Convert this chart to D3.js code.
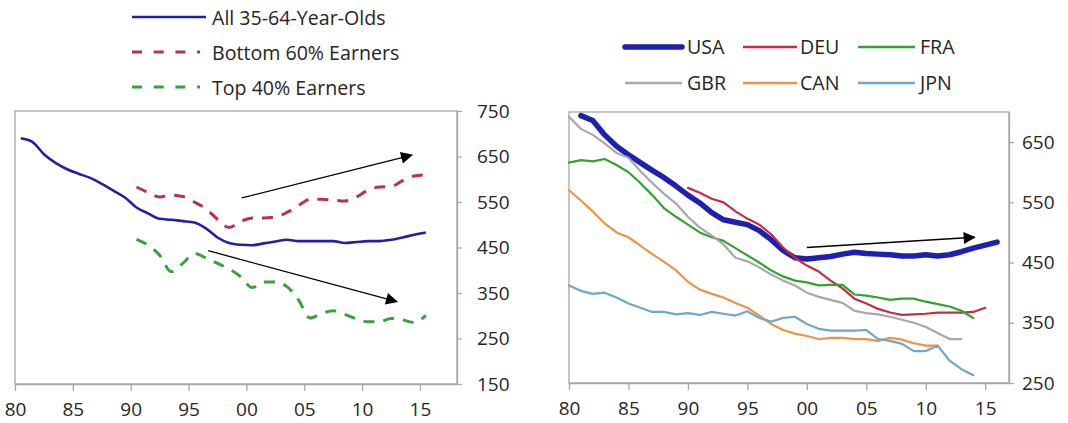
<!DOCTYPE html>
<html><head><meta charset="utf-8">
<script src="https://cdn.jsdelivr.net/npm/d3@7"></script>
<style>
html,body{margin:0;padding:0;background:#fff;}
svg{display:block;font-family:"Open Sans",sans-serif;}
</style></head><body>
<svg id="chart" width="1068" height="423"></svg>
<script>
// ---------------- Left chart data ----------------
const leftYears = [1980,1981,1982,1983,1984,1985,1986,1987,1988,1989,1990,1991,1992,1993,1994,1995,1996,1997,1998,1999,2000,2001,2002,2003,2004,2005,2006,2007,2008,2009,2010,2011,2012,2013,2014,2015];
const allOlds = [690,682,655,636,622,612,603,590,575,560,538,525,513,511,508,505,492,472,460,456,455,459,463,467,464,464,464,464,460,462,464,464,467,472,478,483];
const splitYears = [1990,1991,1992,1993,1994,1995,1996,1997,1998,1999,2000,2001,2002,2003,2004,2005,2006,2007,2008,2009,2010,2011,2012,2013,2014,2015];
const bottom60 = [583,571,561,565,562,550,535,512,494,507,515,515,517,527,542,556,556,554,552,561,576,583,584,597,607,610];
const top40 = [468,455,433,397,415,437,427,415,403,386,362,374,374,364,335,295,305,311,303,293,287,287,294,291,285,301];
const leftXTicks = [1980,1985,1990,1995,2000,2005,2010,2015];
const leftYTicks = [150,250,350,450,550,650,750];
const leftLegend = ["All 35-64-Year-Olds","Bottom 60% Earners","Top 40% Earners"];
// arrows: [fromYear, fromValue, toYear, toValue]
const leftArrows = [[1999.6,559,2014.3,653],[1996.7,443,2013.0,331]];

// ---------------- Right chart data ----------------
const usaYears = [1981,1982,1983,1984,1985,1986,1987,1988,1989,1990,1991,1992,1993,1994,1995,1996,1997,1998,1999,2000,2001,2002,2003,2004,2005,2006,2007,2008,2009,2010,2011,2012,2013,2014,2015,2016];
const usa = [694,686,662,643,629,616,603,591,577,562,549,533,521,517,513,503,488,470,458,456,458,460,464,467,465,464,463,461,461,463,461,463,468,474,479,484];
const deuYears = [1990,1991,1992,1993,1994,1995,1996,1997,1998,1999,2000,2001,2002,2003,2004,2005,2006,2007,2008,2009,2010,2011,2012,2013,2014,2015];
const deu = [574,566,556,550,535,523,513,497,475,458,445,435,420,407,390,382,373,367,363,364,365,367,367,367,368,375];
const fraYears = [1980,1981,1982,1983,1984,1985,1986,1987,1988,1989,1990,1991,1992,1993,1994,1995,1996,1997,1998,1999,2000,2001,2002,2003,2004,2005,2006,2007,2008,2009,2010,2011,2012,2013,2014];
const fra = [616,620,618,622,612,600,582,562,540,526,513,500,492,486,474,462,450,437,427,420,417,412,413,413,397,395,392,388,390,390,385,381,377,370,358];
const gbrYears = [1980,1981,1982,1983,1984,1985,1986,1987,1988,1989,1990,1991,1992,1993,1994,1995,1996,1997,1998,1999,2000,2001,2002,2003,2004,2005,2006,2007,2008,2009,2010,2011,2012,2013];
const gbr = [692,672,662,648,632,624,602,582,564,548,526,508,495,480,458,452,442,430,420,412,400,393,388,383,370,366,364,360,355,350,343,333,323,323];
const canYears = [1980,1981,1982,1983,1984,1985,1986,1987,1988,1989,1990,1991,1992,1993,1994,1995,1996,1997,1998,1999,2000,2001,2002,2003,2004,2005,2006,2007,2008,2009,2010,2011];
const can = [570,553,535,515,500,492,478,464,451,437,418,405,398,392,383,375,362,348,338,332,328,323,325,325,323,323,320,325,322,316,312,312];
const jpnYears = [1980,1981,1982,1983,1984,1985,1986,1987,1988,1989,1990,1991,1992,1993,1994,1995,1996,1997,1998,1999,2000,2001,2002,2003,2004,2005,2006,2007,2008,2009,2010,2011,2012,2013,2014];
const jpn = [412,403,398,400,392,382,375,368,368,364,366,363,368,365,362,369,358,352,358,360,348,340,337,337,337,338,323,320,315,303,303,312,287,273,263];
const rightXTicks = [1980,1985,1990,1995,2000,2005,2010,2015];
const rightYTicks = [250,350,450,550,650];
const countryNames = ["USA","DEU","FRA","GBR","CAN","JPN"];
const rightArrows = [[2000.0,475,2014.1,492]];

// ---------------- Drawing ----------------
const svg = d3.select("#chart");
const FONT = 19;
const LEGFONT = 19.6;
const textColor = "#262626";
const frameColor = "#a6a6a6";
const yearLabel = d => d3.format("02d")(d % 100);

const defs = svg.append("defs");
defs.append("marker").attr("id","arrowhead")
  .attr("viewBox","0 0 10 10").attr("refX",9).attr("refY",5)
  .attr("markerWidth",14).attr("markerHeight",12)
  .attr("markerUnits","userSpaceOnUse").attr("orient","auto")
  .append("path").attr("d","M0,0 L10,5 L0,10 Z").attr("fill","#000");

function styleAxis(g){
  g.select(".domain").attr("stroke",frameColor).attr("stroke-width",1.3);
  g.selectAll(".tick line").attr("stroke",frameColor).attr("stroke-width",1.3);
  g.selectAll(".tick text").attr("fill",textColor).style("font-size",FONT+"px").style("font-family","'Open Sans',sans-serif");
}

function drawFrame(box){
  svg.append("rect").attr("x",box.x0).attr("y",box.y0)
    .attr("width",box.x1-box.x0).attr("height",box.y1-box.y0)
    .attr("fill","none").attr("stroke",frameColor).attr("stroke-width",1.3);
}

function drawArrows(list, xs, ys){
  list.forEach(a=>{
    svg.append("line")
      .attr("x1",xs(a[0])).attr("y1",ys(a[1]))
      .attr("x2",xs(a[2])).attr("y2",ys(a[3]))
      .attr("stroke","#000").attr("stroke-width",1.3)
      .attr("marker-end","url(#arrowhead)");
  });
}

// ---- Left chart ----
const L = {x0:15, x1:457, y0:111, y1:384};
const xL = d3.scaleLinear().domain([1980, 2018.2]).range([L.x0, L.x1]);
const yL = d3.scaleLinear().domain([150, 750]).range([L.y1, L.y0]);
const mid = 0.5; // annual values plotted at mid-year

drawFrame(L);
svg.append("g").attr("transform",`translate(0,${L.y1})`)
  .call(d3.axisBottom(xL).tickValues(leftXTicks).tickFormat(yearLabel).tickSize(7).tickSizeOuter(0).tickPadding(12))
  .call(styleAxis);
svg.append("g").attr("transform",`translate(${L.x1},0)`)
  .call(d3.axisRight(yL).tickValues(leftYTicks).tickSize(5).tickSizeOuter(0).tickPadding(15))
  .call(styleAxis);

const lineL = (years) => d3.line().curve(d3.curveMonotoneX)
  .x((d,i)=>xL(years[i]+mid)).y(d=>yL(d));

const leftSeries = [
  {years:leftYears, vals:allOlds, color:"#2222a0", dash:null, w:2.6},
  {years:splitYears, vals:bottom60, color:"#b5344a", dash:"11,9", w:3},
  {years:splitYears, vals:top40, color:"#3d9e3d", dash:"11,9", w:3}
];
leftSeries.forEach(s=>{
  svg.append("path").attr("d",lineL(s.years)(s.vals))
    .attr("fill","none").attr("stroke",s.color).attr("stroke-width",s.w)
    .attr("stroke-dasharray",s.dash).attr("stroke-linejoin","round");
});
drawArrows(leftArrows, xL, yL);

// left legend
const legLY = [17, 52, 87];
leftSeries.forEach((s,i)=>{
  svg.append("line").attr("x1",132).attr("x2", s.dash ? 200 : 206)
    .attr("y1",legLY[i]).attr("y2",legLY[i])
    .attr("stroke",s.color).attr("stroke-width",s.dash?3:2.6)
    .attr("stroke-dasharray", s.dash ? "10,11.7" : null);
  svg.append("text").attr("x",212).attr("y",legLY[i]+1).attr("dy","0.35em")
    .attr("fill",textColor).style("font-size",LEGFONT+"px").text(leftLegend[i]);
});

// ---- Right chart ----
const R = {x0:569, x1:1009, y0:112, y1:383};
const xR = d3.scaleLinear().domain([1980, 2017]).range([R.x0, R.x1]);
const yR = d3.scaleLinear().domain([250, 700]).range([R.y1, R.y0]);

drawFrame(R);
svg.append("g").attr("transform",`translate(0,${R.y1})`)
  .call(d3.axisBottom(xR).tickValues(rightXTicks).tickFormat(yearLabel).tickSize(7).tickSizeOuter(0).tickPadding(12))
  .call(styleAxis);
svg.append("g").attr("transform",`translate(${R.x1},0)`)
  .call(d3.axisRight(yR).tickValues(rightYTicks).tickSize(5).tickSizeOuter(0).tickPadding(8))
  .call(styleAxis);

const rightSeries = [
  {name:"USA", years:usaYears, vals:usa, color:"#1f1fb0", w:5.5},
  {name:"DEU", years:deuYears, vals:deu, color:"#c62d42", w:2.2},
  {name:"FRA", years:fraYears, vals:fra, color:"#33a133", w:2.2},
  {name:"GBR", years:gbrYears, vals:gbr, color:"#a8a8a8", w:2.2},
  {name:"CAN", years:canYears, vals:can, color:"#eb9448", w:2.2},
  {name:"JPN", years:jpnYears, vals:jpn, color:"#6ea8c6", w:2.2}
];
const lineR = (years) => d3.line().x((d,i)=>xR(years[i])).y(d=>yR(d));
rightSeries.forEach(s=>{
  svg.append("path").attr("d",lineR(s.years)(s.vals))
    .attr("fill","none").attr("stroke",s.color).attr("stroke-width",s.w)
    .attr("stroke-linejoin","round").attr("stroke-linecap","round");
});
drawArrows(rightArrows, xR, yR);

// right legend
const legCols = [{x1:625,x2:682,tx:687},{x1:743,x2:797,tx:800},{x1:858,x2:915,tx:920}];
const legRows = [47, 83];
rightSeries.forEach((s,i)=>{
  const c = legCols[i%3], y = legRows[Math.floor(i/3)];
  svg.append("line").attr("x1",c.x1).attr("x2",c.x2).attr("y1",y).attr("y2",y)
    .attr("stroke",s.color).attr("stroke-width", s.name==="USA"?5.5:2.5)
    .attr("stroke-linecap", s.name==="USA"?"round":"butt");
  svg.append("text").attr("x",c.tx).attr("y",y).attr("dy","0.35em")
    .attr("fill",textColor).style("font-size",LEGFONT+"px").text(countryNames[i]);
});
</script>
</body></html>
